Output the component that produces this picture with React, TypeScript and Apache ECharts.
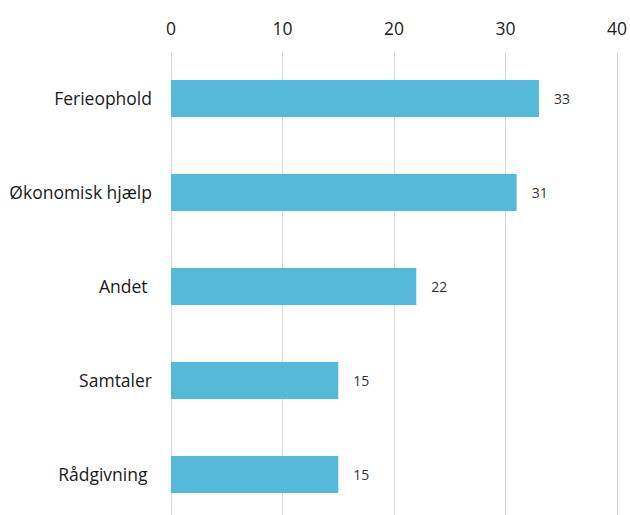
import React, { useEffect, useRef } from "react";
import * as echarts from "echarts";

const categories = ["Ferieophold", "Økonomisk hjælp", "Andet ", "Samtaler", "Rådgivning "];
const values = [33, 31, 22, 15, 15];
const xTicks = { min: 0, max: 40, interval: 10 };

export default function App() {
  const ref = useRef<HTMLDivElement>(null);
  useEffect(() => {
    const chart = echarts.init(ref.current!, null, { renderer: "svg" });
    chart.setOption({
      animation: false,
      grid: { left: 171, right: 11, top: 51.5, bottom: 8.6, containLabel: false },
      xAxis: {
        type: "value",
        position: "top",
        min: xTicks.min,
        max: xTicks.max,
        interval: xTicks.interval,
        axisLine: { show: false },
        axisTick: { show: false },
        axisLabel: { fontFamily: "Open Sans", fontSize: 17.5, color: "#222", margin: 15 },
        splitLine: { show: true, lineStyle: { color: "#d9d9d9", width: 1 } },
      },
      yAxis: {
        type: "category",
        data: categories,
        inverse: true,
        axisLine: { show: false },
        axisTick: { show: false },
        axisLabel: { fontFamily: "Open Sans", fontSize: 17.5, color: "#1a1a1a", margin: 19 },
      },
      series: [
        {
          type: "bar",
          data: values,
          barWidth: 37,
          itemStyle: { color: "#4cb5d6", opacity: 0.95 },
          label: {
            show: true,
            position: "right",
            distance: 15,
            fontFamily: "Open Sans",
            fontSize: 14,
            color: "#222",
          },
        },
      ],
    });
    return () => chart.dispose();
  }, []);
  return (
    <div
      ref={ref}
      style={{ position: "fixed", left: 0, top: 0, width: 630, height: 530, background: "#fff" }}
    />
  );
}
